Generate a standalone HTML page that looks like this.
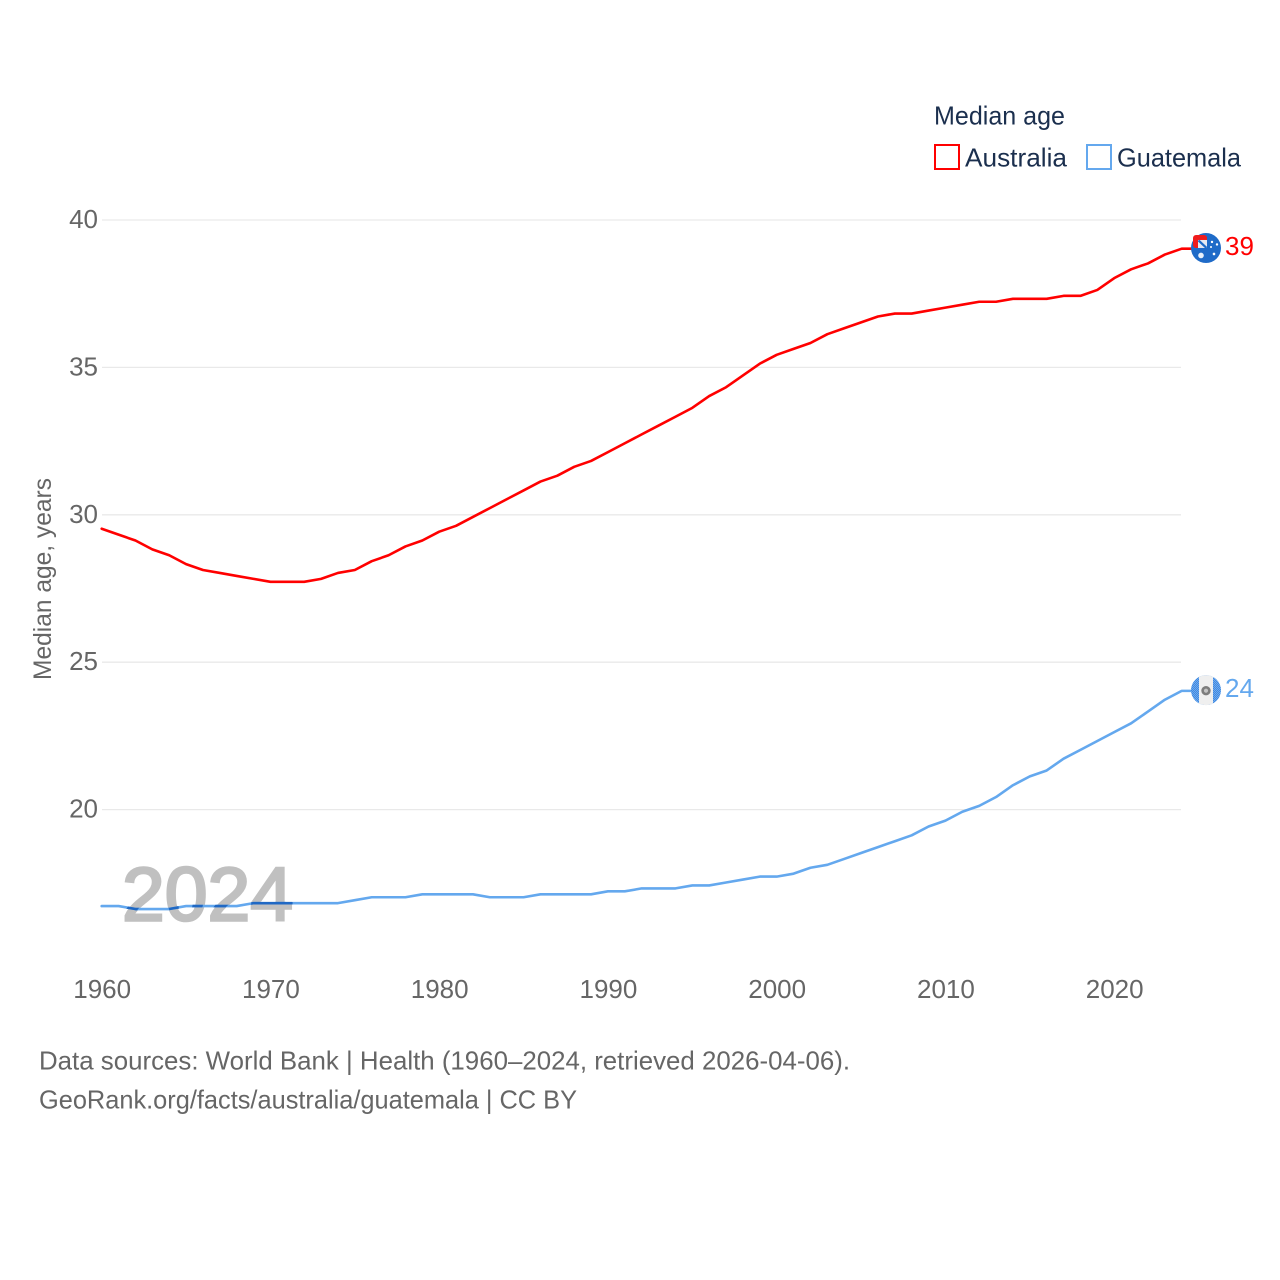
<!DOCTYPE html>
<html lang="en">
<head>
<meta charset="utf-8">
<title>Median age: Australia and Guatemala</title>
<style>
html,body{margin:0;padding:0;background:#fff}
svg{display:block}
text{font-family:"Liberation Sans",sans-serif}
</style>
</head>
<body>
<svg id="chart" xmlns="http://www.w3.org/2000/svg" width="1280" height="1280" viewBox="0 0 1280 1280">
  <defs>
    <clipPath id="flag-clip"><circle cx="0" cy="0" r="15"/></clipPath>
    <clipPath id="year-clip"><text x="121" y="921" font-size="78" font-weight="bold" textLength="172" lengthAdjust="spacingAndGlyphs">2024</text></clipPath>
    <pattern id="dither" width="2" height="2" patternUnits="userSpaceOnUse">
      <rect width="2" height="2" fill="#2f7fdf"/>
      <rect width="1" height="1" fill="#7fb4ee"/>
      <rect x="1" y="1" width="1" height="1" fill="#7fb4ee"/>
    </pattern>
  </defs>
  <rect width="1280" height="1280" fill="#fff"/>
  <g id="grid"></g>
  <g id="yticks"></g>
  <g id="xticks"></g>
  <text transform="translate(51,680) rotate(-90)" font-size="25" fill="#666" textLength="202" lengthAdjust="spacingAndGlyphs">Median age, years</text>
  <text x="122" y="920.500" font-size="76" fill="#c0c0c0" stroke="#c0c0c0" stroke-width="2.600" textLength="171" lengthAdjust="spacingAndGlyphs">2024</text>
  <g>
    <text x="934" y="124.500" font-size="26" fill="#1b2f4e" textLength="131" lengthAdjust="spacingAndGlyphs">Median age</text>
    <rect x="935" y="145" width="24" height="24" fill="none" stroke="#ff0000" stroke-width="2"/>
    <text x="965" y="166.500" font-size="26" fill="#1b2f4e" textLength="102" lengthAdjust="spacingAndGlyphs">Australia</text>
    <rect x="1087" y="145" width="24" height="24" fill="none" stroke="#64a8ee" stroke-width="2"/>
    <text x="1117" y="166.500" font-size="26" fill="#1b2f4e" textLength="124" lengthAdjust="spacingAndGlyphs">Guatemala</text>
  </g>
  <path id="line-au" fill="none" stroke="#ff0000" stroke-width="2.6" stroke-linejoin="round" stroke-linecap="round"/>
  <path id="line-gt" fill="none" stroke="#64a8ee" stroke-width="2.6" stroke-linejoin="round" stroke-linecap="round"/>
  <g clip-path="url(#year-clip)">
    <path id="line-gt-dark" fill="none" stroke="#1f68c4" stroke-width="2.6" stroke-linejoin="round"/>
  </g>
  <g id="flag-au">
    <g clip-path="url(#flag-clip)">
      <rect x="-15" y="-15" width="30" height="30" fill="#1f6bc8"/>
      <circle cx="-5" cy="7.500" r="2.800" fill="#e8f0fa"/>
      <circle cx="6" cy="-6" r="1.200" fill="#fff"/>
      <circle cx="11" cy="-3.500" r="1.200" fill="#fff"/>
      <circle cx="5" cy="-1" r="1" fill="#fff"/>
      <circle cx="8" cy="6" r="1.300" fill="#fff"/>
    </g>
    <rect x="-13" y="-13" width="14" height="13" rx="3" fill="#f01c1c"/>
    <rect x="-8" y="-8" width="9" height="8" fill="#e6eaf3"/>
    <path d="M-7.500 -7.500 L0.500 0" stroke="#1f6bc8" stroke-width="2.200"/>
  </g>
  <g id="flag-gt">
    <g clip-path="url(#flag-clip)">
      <rect x="-15" y="-15" width="30" height="30" fill="url(#dither)"/>
      <rect x="-7" y="-15" width="14" height="30" fill="#efefef"/>
      <circle cx="0" cy="0.500" r="3.400" fill="#c4c4c4" stroke="#7d7d7d" stroke-width="2.600"/>
    </g>
  </g>
  <text id="value-au" x="1225" font-size="26" fill="#ff0000"></text>
  <text id="value-gt" x="1225" font-size="26" fill="#64a8ee"></text>
  <g>
    <text x="39" y="1069.500" font-size="26" fill="#666" textLength="811" lengthAdjust="spacingAndGlyphs">Data sources: World Bank | Health (1960–2024, retrieved 2026-04-06).</text>
    <text x="39" y="1108.500" font-size="26" fill="#666" textLength="538" lengthAdjust="spacingAndGlyphs">GeoRank.org/facts/australia/guatemala | CC BY</text>
  </g>
</svg>
<script>
const startYear = 1960;
const australiaValues = [29.5,29.3,29.1,28.8,28.6,28.3,28.1,28.0,27.9,27.8,27.7,27.7,27.7,27.8,28.0,28.1,28.4,28.6,28.9,29.1,29.4,29.6,29.9,30.2,30.5,30.8,31.1,31.3,31.6,31.8,32.1,32.4,32.7,33.0,33.3,33.6,34.0,34.3,34.7,35.1,35.4,35.6,35.8,36.1,36.3,36.5,36.7,36.8,36.8,36.9,37.0,37.1,37.2,37.2,37.3,37.3,37.3,37.4,37.4,37.6,38.0,38.3,38.5,38.8,39.0];
const guatemalaValues = [16.7,16.7,16.6,16.6,16.6,16.7,16.7,16.7,16.7,16.8,16.8,16.8,16.8,16.8,16.8,16.9,17.0,17.0,17.0,17.1,17.1,17.1,17.1,17.0,17.0,17.0,17.1,17.1,17.1,17.1,17.2,17.2,17.3,17.3,17.3,17.4,17.4,17.5,17.6,17.7,17.7,17.8,18.0,18.1,18.3,18.5,18.7,18.9,19.1,19.4,19.6,19.9,20.1,20.4,20.8,21.1,21.3,21.7,22.0,22.3,22.6,22.9,23.3,23.7,24.0];
const yTickValues = [40,35,30,25,20];
const xTickYears = [1960,1970,1980,1990,2000,2010,2020];

const NS = 'http://www.w3.org/2000/svg';
function xScale(year){ return 101.7 + (year - 1960) * 16.875; }
function yScale(v){ return 220 + (40 - v) * 29.48; }
function lineY(v){ return yScale(v) - 0.8; }

const grid = document.getElementById('grid');
const yticks = document.getElementById('yticks');
const xticks = document.getElementById('xticks');

yTickValues.forEach(function(v){
  const l = document.createElementNS(NS,'line');
  
  
  l.setAttribute('x1', 102);
  l.setAttribute('x2', 1181);
  l.setAttribute('y1', yScale(v));
  l.setAttribute('y2', yScale(v));
  l.setAttribute('stroke', '#e9e9e9');
  l.setAttribute('stroke-width', '1.3');
  grid.appendChild(l);
  const t = document.createElementNS(NS,'text');
  
  
  t.setAttribute('x', 98);
  t.setAttribute('y', yScale(v) + 8);
  t.setAttribute('text-anchor', 'end');
  t.setAttribute('font-size', '26');
  t.setAttribute('fill', '#666');
  t.textContent = v;
  yticks.appendChild(t);
});

xTickYears.forEach(function(yr){
  const t = document.createElementNS(NS,'text');
  
  
  t.setAttribute('x', xScale(yr) + 0.5);
  t.setAttribute('y', 998);
  t.setAttribute('text-anchor', 'middle');
  t.setAttribute('font-size', '26');
  t.setAttribute('fill', '#666');
  t.textContent = yr;
  xticks.appendChild(t);
});

function linePath(values){
  let d = values.map(function(v,i){
    return (i ? 'L' : 'M') + xScale(startYear + i).toFixed(2) + ' ' + lineY(v).toFixed(2);
  }).join(' ');
  const last = values[values.length - 1];
  return d + ' L1192 ' + lineY(last).toFixed(2);
}

function placeEnd(values, lineId, flagId, labelId){
  const last = values[values.length - 1];
  const endY = yScale(last);
  document.getElementById(lineId).setAttribute('d', linePath(values));
  document.getElementById(flagId).setAttribute('transform', 'translate(1206,' + (endY - 1.5) + ')');
  const label = document.getElementById(labelId);
  label.setAttribute('y', endY + 5.5);
  label.textContent = Math.round(last);
}

placeEnd(australiaValues, 'line-au', 'flag-au', 'value-au');
placeEnd(guatemalaValues, 'line-gt', 'flag-gt', 'value-gt');
document.getElementById('line-gt-dark').setAttribute('d', linePath(guatemalaValues));
</script>
</body>
</html>
